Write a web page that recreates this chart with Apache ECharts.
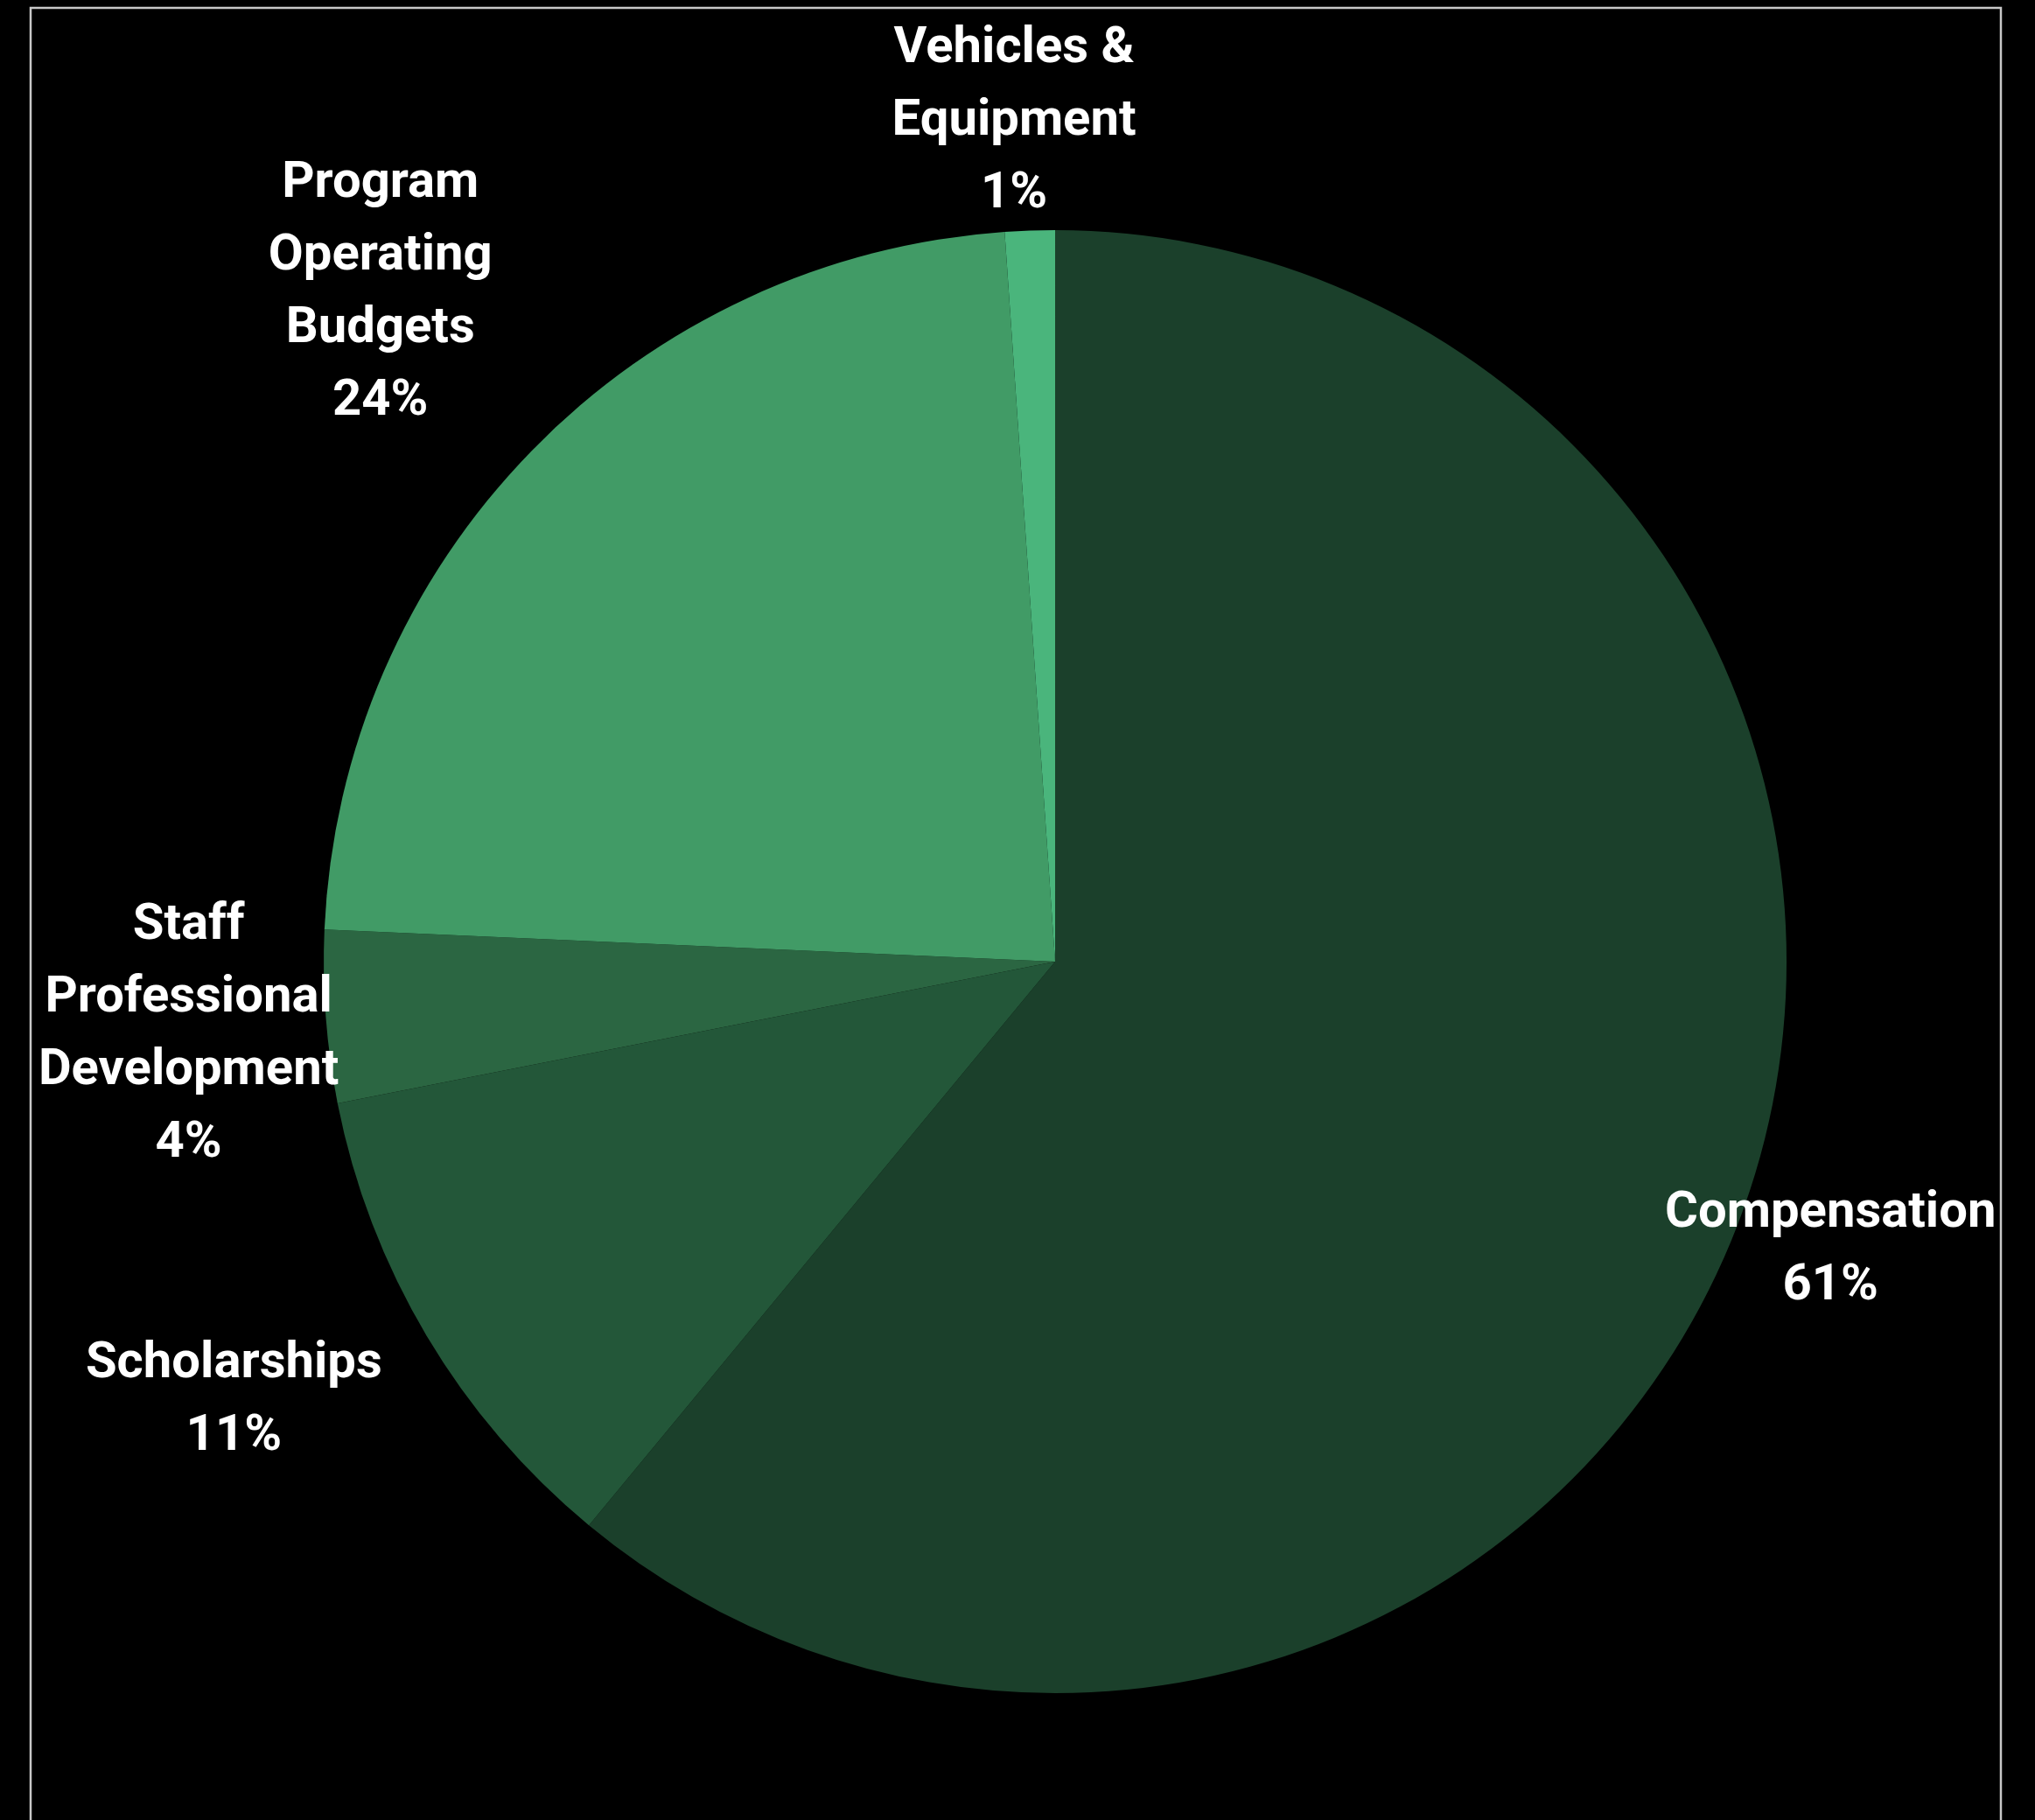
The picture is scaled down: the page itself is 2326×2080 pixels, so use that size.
<!DOCTYPE html>
<html>
<head>
<meta charset="utf-8">
<script src="https://cdn.jsdelivr.net/npm/echarts@6/dist/echarts.min.js"></script>
<style>
  html, body { margin: 0; padding: 0; background: #000; }
  #chart { width: 2326px; height: 2080px; }
</style>
</head>
<body>
<div id="chart"></div>
<script>
// ---- data ----
const categories = [
  'Compensation',
  'Scholarships',
  'Staff Professional Development',
  'Program Operating Budgets',
  'Vehicles & Equipment'
];
const labelTexts = [
  'Compensation',
  'Scholarships',
  'Staff\nProfessional\nDevelopment',
  'Program\nOperating\nBudgets',
  'Vehicles &\nEquipment'
];
const values = [61.0, 10.9, 3.8, 23.2, 1.1];
// percentages as printed on the chart
const percentLabels = ['61%', '11%', '4%', '24%', '1%'];

// ---- styling / layout ----
const colors = ['#1b402b', '#235739', '#2b6642', '#419b66', '#4ab57c'];
// label placement relative to the library's default (mid-angle) position
const labelRadial = [0.94, 1.058, 0.988, 1.079, 0.955];
const labelTurnDeg = [0.62, 2.66, -0.5, 0.44, -0.82];
const center = ['51.85%', '52.84%'];
const pieRadius = 836;
const labelRingMid = 1003;

const chart = echarts.init(document.getElementById('chart'));

const pieData = categories.map((c, i) => ({
  name: c, value: values[i], itemStyle: { color: colors[i] }
}));
const labelData = categories.map((c, i) => ({
  name: c, value: values[i]
}));

chart.setOption({
  backgroundColor: '#000000',
  animation: false,
  graphic: [{
    type: 'rect',
    shape: { x: 35, y: 9, width: 2252, height: 2120 },
    style: { fill: 'none', stroke: '#c8c8c8', lineWidth: 2.5 },
    silent: true
  }],
  series: [
    {
      type: 'pie',
      center: center,
      radius: [0, pieRadius],
      startAngle: 90,
      clockwise: true,
      data: pieData,
      label: { show: false },
      labelLine: { show: false },
      itemStyle: { borderWidth: 0 },
      silent: true
    },
    {
      type: 'pie',
      center: center,
      radius: [pieRadius, 2 * labelRingMid - pieRadius],
      startAngle: 90,
      clockwise: true,
      data: labelData,
      silent: true,
      itemStyle: { color: 'rgba(0,0,0,0)', borderWidth: 0 },
      label: {
        show: true,
        position: 'inside',
        color: '#ffffff',
        fontFamily: 'Roboto',
        fontWeight: 'bold',
        fontSize: 58,
        lineHeight: 83,
        align: 'center',
        formatter: p => labelTexts[p.dataIndex] + '\n' + percentLabels[p.dataIndex]
      },
      labelLine: { show: false },
      labelLayout: function (params) {
        const r = params.labelRect;
        const cx = chart.getWidth() * parseFloat(center[0]) / 100;
        const cy = chart.getHeight() * parseFloat(center[1]) / 100;
        const vx = r.x + r.width / 2 - cx;
        const vy = r.y + r.height / 2 - cy;
        const k = labelRadial[params.dataIndex];
        const t = labelTurnDeg[params.dataIndex] * Math.PI / 180;
        const nx = k * (vx * Math.cos(t) - vy * Math.sin(t));
        const ny = k * (vx * Math.sin(t) + vy * Math.cos(t));
        return { dx: nx - vx, dy: ny - vy };
      }
    }
  ]
});
</script>
</body>
</html>
